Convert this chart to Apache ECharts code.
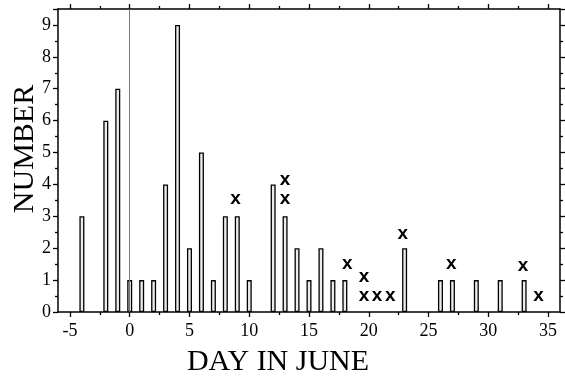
<!DOCTYPE html>
<html>
<head>
<meta charset="utf-8">
<script src="https://cdn.jsdelivr.net/npm/echarts@6/dist/echarts.min.js"></script>
<style>
  html, body { margin: 0; padding: 0; background: #fff; }
  #main { width: 565px; height: 379px; }
</style>
</head>
<body>
<div id="main"></div>
<script>
  // bars: day in June -> number
  var days = [-4, -2, -1, 0, 1, 2, 3, 4, 5, 6, 7, 8, 9, 10, 12, 13, 14, 15, 16, 17, 18, 23, 26, 27, 29, 31, 33];
  var counts = [3, 6, 7, 1, 1, 1, 4, 9, 2, 5, 1, 3, 3, 1, 4, 3, 2, 1, 2, 1, 1, 2, 1, 1, 1, 1, 1];
  // "x" marks
  var markDays = [8.85, 13, 13, 18.2, 19.6, 19.6, 20.7, 21.8, 22.85, 26.9, 32.9, 34.2];
  var markVals = [3.55, 4.15, 3.55, 1.5, 1.1, 0.5, 0.5, 0.5, 2.45, 1.5, 1.45, 0.5];
  var xMajor = [-5, 0, 5, 10, 15, 20, 25, 30, 35];
  var xMinor = [-2.5, 2.5, 7.5, 12.5, 17.5, 22.5, 27.5, 32.5];

  var serif = '"Liberation Serif", "DejaVu Serif", serif';
  var lineStyle = { color: '#000', width: 1.5 };

  function xAx(pos, ticks, len, labels, showLine) {
    return {
      type: 'value', position: pos, min: -6, max: 36,
      axisLine: { show: showLine, onZero: false, lineStyle: lineStyle },
      axisTick: { show: true, customValues: ticks, length: len, lineStyle: { color: '#000', width: 1.3 } },
      axisLabel: labels ? { show: true, customValues: ticks, margin: 10, fontFamily: serif, fontSize: 18, color: '#000' } : { show: false },
      splitLine: { show: false }
    };
  }
  function yAx(pos, labels) {
    return {
      type: 'value', position: pos, min: 0, max: 9.5, interval: 1,
      axisLine: { show: true, onZero: false, lineStyle: lineStyle },
      axisTick: { show: true, length: 5, lineStyle: { color: '#000', width: 1.3 } },
      minorTick: { show: true, splitNumber: 2, length: 3, lineStyle: { color: '#000', width: 1.3 } },
      axisLabel: labels ? { show: true, margin: 7, fontFamily: serif, fontSize: 18, color: '#000',
        formatter: function (v) { return v % 1 === 0 ? v : ''; } } : { show: false },
      splitLine: { show: false }
    };
  }

  var barData = days.map(function (d, i) { return [d, counts[i]]; });
  var markData = markDays.map(function (d, i) { return [d, markVals[i]]; });

  var myChart = echarts.init(document.getElementById('main'));
  myChart.setOption({
    animation: false,
    backgroundColor: '#fff',
    grid: { left: 58, right: 5, top: 9, bottom: 67 },
    xAxis: [
      xAx('bottom', xMajor, 5, true, true),
      xAx('bottom', xMinor, 3, false, false),
      xAx('top', xMajor, 5, false, true),
      xAx('top', xMinor, 3, false, false)
    ],
    yAxis: [yAx('left', true), yAx('right', false)],
    graphic: [
      { type: 'text', x: 25, y: 149, rotation: Math.PI / 2,
        style: { text: 'NUMBER', font: '30px ' + serif, fill: '#000', textAlign: 'center', textVerticalAlign: 'middle' } },
      { type: 'text', x: 278, y: 362,
        style: { text: 'DAY IN JUNE', font: '30px ' + serif, fill: '#000', textAlign: 'center', textVerticalAlign: 'middle' } }
    ],
    series: [{
      type: 'bar',
      data: barData,
      barWidth: 5,
      itemStyle: { color: '#ececec', borderColor: '#000', borderWidth: 1.3 },
      markLine: {
        silent: true, symbol: 'none', label: { show: false },
        lineStyle: { color: '#777', width: 1, type: 'solid' },
        data: [{ xAxis: 0 }]
      }
    }, {
      type: 'scatter',
      data: markData,
      symbolSize: 0,
      itemStyle: { opacity: 1 },
      label: {
        show: true, position: 'inside', formatter: 'x',
        fontFamily: '"Liberation Sans", Arial, sans-serif', fontWeight: 'bold', fontSize: 19, color: '#000'
      }
    }]
  });
</script>
</body>
</html>
